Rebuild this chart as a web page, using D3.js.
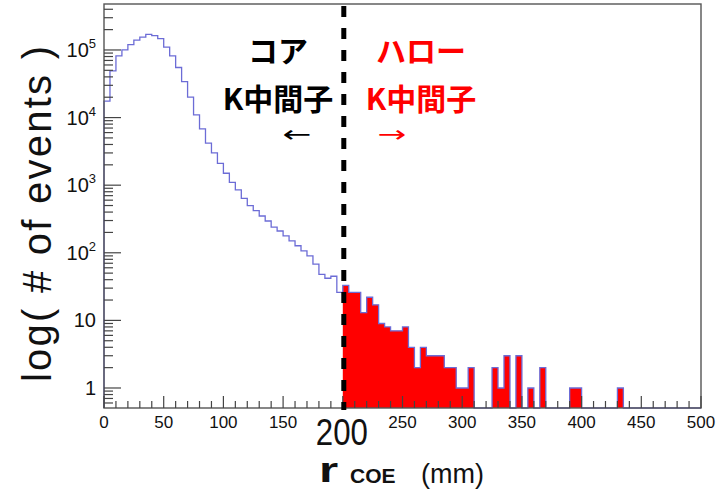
<!DOCTYPE html>
<html>
<head>
<meta charset="utf-8">
<script src="https://cdn.jsdelivr.net/npm/d3@7"></script>
<style>
  body { margin: 0; background: #fff; }
  svg { display: block; }
</style>
</head>
<body>
<svg id="chart" width="718" height="500"></svg>
<script>
// ---- data: r_COE distribution, 5 mm bins from 0 to 500 mm ----
const binWidth = 5;
const binLowEdges = d3.range(0, 500, binWidth);
const counts = [
  17500, 49000, 82000, 100000, 120000, 140000, 155000, 170000, 163000, 147000,
  110000, 82000, 55000, 34000, 20000, 11000, 6800, 4200, 3000, 2100,
  1500, 1100, 850, 640, 500, 420, 350, 295, 240, 210,
  178, 150, 127, 107, 90, 68, 48, 42, 45, 26,
  33, 26, 26, 13, 22, 17, 9, 8, 7, 7,
  8, 4, 2, 4, 3, 3, 3, 2, 2, 1,
  1, 2, 0, 0, 0, 2, 1, 3, 0, 3,
  0, 1, 0, 2, 0, 0, 0, 0, 1, 1,
  0, 0, 0, 0, 0, 0, 1, 0, 0, 0,
  0, 0, 0, 0, 0, 0, 0, 0, 0, 0
];
const haloCut = 200;
const xTickValues = [0, 50, 100, 150, 200, 250, 300, 350, 400, 450, 500];
const xTickLabels = ["0", "50", "100", "150", "200", "250", "300", "350", "400", "450", "500"];
const yTickValues = [1, 10, 100, 1000, 10000, 100000];
const yTickBases = ["1", "10", "10", "10", "10", "10"];
const yTickExponents = ["", "", "2", "3", "4", "5"];
const coreLabel = ["コア", "K中間子"];
const haloLabel = ["ハロー", "K中間子"];
const yTitle = "log( # of events )";

// ---- layout ----
const frame = { left: 104, right: 701, top: 4, bottom: 408 };
const yDomainMin = Math.pow(10, -0.296);
const yDomainMax = Math.pow(10, 5.68);

const svg = d3.select("#chart");
const x = d3.scaleLinear().domain([0, 500]).range([frame.left, frame.right]);
const y = d3.scaleLog().domain([yDomainMin, yDomainMax]).range([frame.bottom, frame.top]);
const y0 = frame.bottom;
const yOf = c => (c > 0 ? y(c) : y0);

// red fill for the halo region, drawn as one stepped area
const haloStart = binLowEdges.findIndex(lo => lo >= haloCut);
let fill = `M${x(binLowEdges[haloStart])},${y0}`;
for (let i = haloStart; i < counts.length; i++) {
  fill += `V${yOf(counts[i])}H${x(binLowEdges[i] + binWidth)}`;
}
fill += `V${y0}Z`;
svg.append("path").attr("d", fill).attr("fill", "#ff0000").attr("stroke", "none");

// histogram outline
let path = `M${x(0)},${y0}`;
counts.forEach((c, i) => {
  path += `V${yOf(c)}H${x(binLowEdges[i] + binWidth)}`;
});
path += `V${y0}`;
svg.append("path")
  .attr("d", path)
  .attr("fill", "none")
  .attr("stroke", "#6c6cd6")
  .attr("stroke-width", 1.3);

// frame
svg.append("rect")
  .attr("x", frame.left).attr("y", frame.top)
  .attr("width", frame.right - frame.left)
  .attr("height", frame.bottom - frame.top)
  .attr("fill", "none")
  .attr("stroke", "#555")
  .attr("stroke-width", 1.4);

// x ticks (inside, pointing up)
const xt = svg.append("g").attr("stroke", "#444").attr("stroke-width", 1.2);
d3.range(0, 501, 10).forEach(v => {
  const major = v % 50 === 0;
  xt.append("line")
    .attr("x1", x(v)).attr("x2", x(v))
    .attr("y1", y0).attr("y2", y0 - (major ? 12 : 7));
});

// y ticks (log, inside, pointing right)
const yt = svg.append("g").attr("stroke", "#444").attr("stroke-width", 1.2);
for (let e = -1; e <= 5; e++) {
  for (let m = 1; m <= 9; m++) {
    const v = m * Math.pow(10, e);
    if (v < yDomainMin || v > yDomainMax) continue;
    yt.append("line")
      .attr("x1", frame.left).attr("x2", frame.left + (m === 1 ? 17 : 9))
      .attr("y1", y(v)).attr("y2", y(v));
  }
}

// x tick labels
const font = "'Liberation Sans', Arial, Helvetica, sans-serif";
xTickValues.forEach((v, i) => {
  if (v === haloCut) return;
  svg.append("text")
    .attr("x", x(v)).attr("y", 428)
    .attr("text-anchor", "middle")
    .attr("font-family", font).attr("font-size", 17)
    .attr("fill", "#111")
    .text(xTickLabels[i]);
});
// emphasised cut value
svg.append("text")
  .attr("transform", `translate(${x(haloCut) - 1},445) scale(0.78,0.92)`)
  .attr("text-anchor", "middle")
  .attr("font-family", font).attr("font-size", 40)
  .attr("fill", "#111")
  .text(xTickLabels[xTickValues.indexOf(haloCut)]);

// y tick labels
yTickValues.forEach((v, i) => {
  const t = svg.append("text")
    .attr("x", 96).attr("y", y(v) + 7)
    .attr("text-anchor", "end")
    .attr("font-family", font).attr("font-size", 20)
    .attr("fill", "#111");
  t.append("tspan").text(yTickBases[i]);
  if (yTickExponents[i]) {
    t.append("tspan").attr("font-size", 13).attr("dy", -9).text(yTickExponents[i]);
  }
});

// y title
svg.append("text")
  .attr("transform", `translate(51,214) rotate(-90)`)
  .attr("text-anchor", "middle")
  .attr("font-family", font).attr("font-size", 40)
  .attr("textLength", 336).attr("lengthAdjust", "spacing")
  .attr("fill", "#111")
  .text(yTitle);

// x title: r_COE (mm)
svg.append("text")
  .attr("transform", "translate(319,482) scale(1.45,1.05)")
  .attr("font-family", font).attr("font-size", 34).attr("font-weight", "bold")
  .attr("fill", "#111")
  .text("r");
svg.append("text")
  .attr("x", 350).attr("y", 483)
  .attr("font-family", font).attr("font-size", 21).attr("font-weight", "bold")
  .attr("fill", "#111")
  .text("COE");
svg.append("text")
  .attr("x", 421).attr("y", 483)
  .attr("font-family", font).attr("font-size", 27)
  .attr("fill", "#111")
  .text("(mm)");

// cut line
svg.append("line")
  .attr("x1", x(haloCut) + 1).attr("x2", x(haloCut) + 1)
  .attr("y1", frame.top + 2).attr("y2", y0 + 2)
  .attr("stroke", "#000").attr("stroke-width", 5)
  .attr("stroke-dasharray", "11 11");

// region annotations
const jp = "'Noto Sans CJK JP', 'Noto Sans', sans-serif";
function annot(lines, cx, color, arrow, ax) {
  lines.forEach((s, i) => {
    svg.append("text")
      .attr("x", cx).attr("y", 62 + i * 48)
      .attr("text-anchor", "middle")
      .attr("font-family", jp).attr("font-weight", 700).attr("font-size", 30)
      .attr("fill", color)
      .text(s);
  });
  svg.append("text")
    .attr("transform", `translate(${ax},142) scale(1.5,1)`)
    .attr("text-anchor", "middle")
    .attr("font-family", "'DejaVu Sans', sans-serif").attr("font-size", 23)
    .attr("fill", color)
    .text(arrow);
}
annot(coreLabel, 278, "#000", "←", 297);
annot(haloLabel, 421, "#ff0000", "→", 392);
</script>
</body>
</html>
